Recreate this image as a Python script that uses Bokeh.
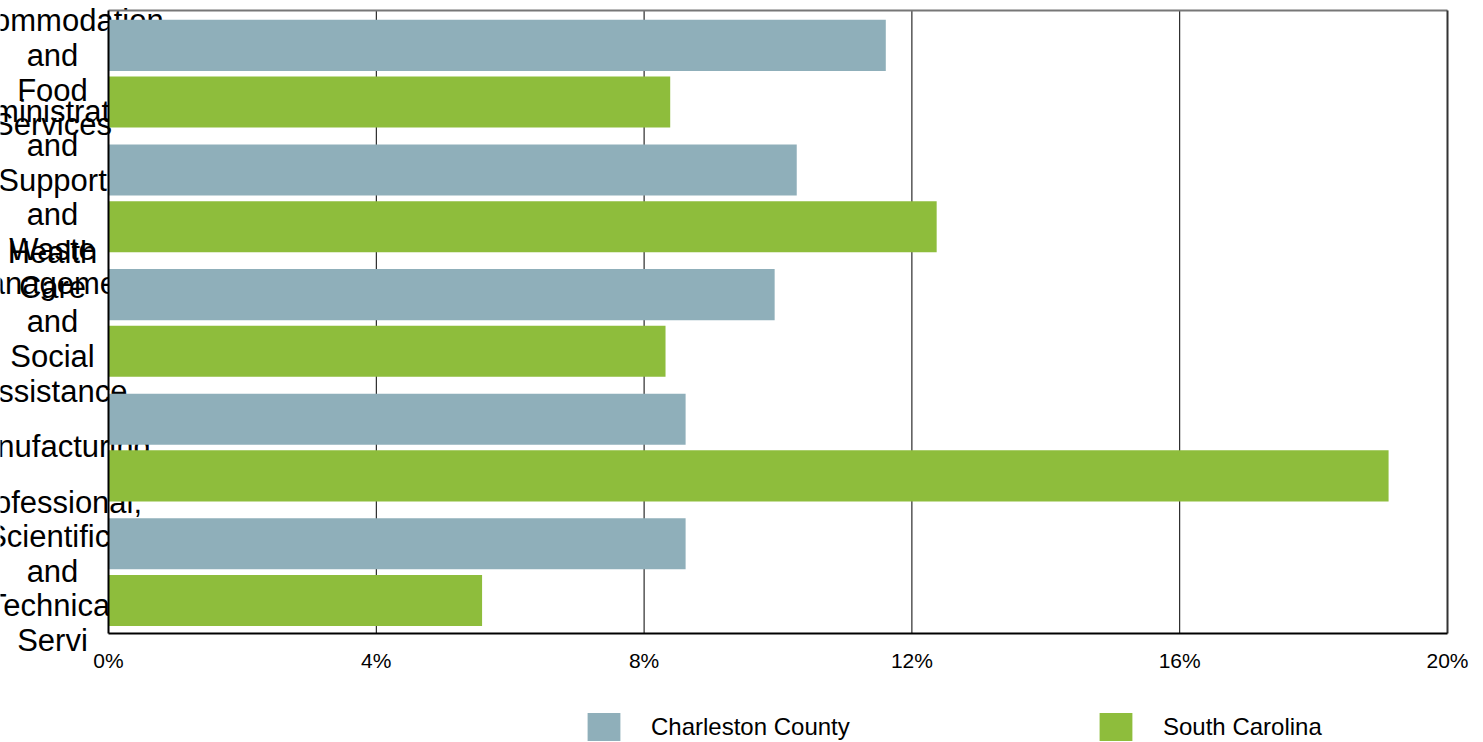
from bokeh.plotting import figure
from bokeh.models import ColumnDataSource, Range1d, Legend, LegendItem
from bokeh.core.properties import value
from bokeh.transform import dodge
from bokeh.embed import file_html
from bokeh.resources import INLINE

categories = [
    "Accommodation and Food Services",
    "Administrative and Support and Waste Management",
    "Health Care and Social Assistance",
    "Manufacturing",
    "Professional, Scientific, and Technical Servi",
]
charleston = [11.61, 10.28, 9.95, 8.62, 8.62]
south_carolina = [8.39, 12.37, 8.32, 19.12, 5.58]
x_ticks = [0, 4, 8, 12, 16, 20]
x_tick_labels = ["0%", "4%", "8%", "12%", "16%", "20%"]
series_names = ["Charleston County", "South Carolina"]
colors = ["#8FAFBA", "#8EBD3C"]

FONT = "Liberation Sans"

# ---- layout (pixels) ----
W, H = 1483, 742
PLOT_L, PLOT_R, PLOT_T, PLOT_B = 108, 1447, 10, 633
LABEL_CX = 52          # centre of the category labels
TICK_DY = 27           # tick labels below the plot bottom

n = len(categories)
x0, x1 = x_ticks[0], x_ticks[-1]
kx = (PLOT_R - PLOT_L) / (x1 - x0)
ky = (PLOT_B - PLOT_T) / n
x_range = Range1d(x0 - PLOT_L / kx, x1 + (W - PLOT_R) / kx)
y_range = Range1d(n + (H - PLOT_B) / ky, -PLOT_T / ky)

centers = [i + 0.5 for i in range(n)]
wrapped = ["\n".join(c.split(" ")) for c in categories]
source = ColumnDataSource(dict(cat=categories, label=wrapped, pos=centers,
                               ch=charleston, sc=south_carolina))
label_x = x0 + (LABEL_CX - PLOT_L) / kx

p = figure(width=W, height=H, output_backend="svg", toolbar_location=None,
           x_range=x_range, y_range=y_range, x_axis_location=None, y_axis_location=None,
           min_border=0)
p.outline_line_color = None
p.grid.visible = False
p.background_fill_color = "white"
p.border_fill_color = "white"

# vertical grid lines
grid_src = ColumnDataSource(dict(x=x_ticks[1:-1]))
p.segment(x0="x", y0=0, x1="x", y1=n, source=grid_src, line_color="black", line_width=1)

# category labels (drawn under the bars)
p.text(x=label_x, y="pos", text="label", source=source, text_align="center",
       text_baseline="middle", text_font=value(FONT), text_font_size="31px",
       text_color="black", text_line_height=0.987)

r1 = p.hbar(y=dodge("pos", -0.22), left=0, right="ch", height=0.41,
            source=source, fill_color=colors[0], line_color=None)
r2 = p.hbar(y=dodge("pos", 0.235), left=0, right="sc", height=0.41,
            source=source, fill_color=colors[1], line_color=None)

# plot border
p.segment(x0=x0, y0=0, x1=x1, y1=0, line_color="#777777", line_width=2)
p.segment(x0=x1, y0=0, x1=x1, y1=n, line_color="#333333", line_width=2)
p.segment(x0=x0, y0=0, x1=x0, y1=n, line_color="black", line_width=2)
p.segment(x0=x0, y0=n, x1=x1, y1=n, line_color="black", line_width=2)

# x tick labels
tick_src = ColumnDataSource(dict(x=x_ticks, t=x_tick_labels))
p.text(x="x", y=n + TICK_DY / ky, text="t", source=tick_src, text_align="center",
       text_baseline="middle", text_font=value(FONT), text_font_size="21px", text_color="black")

for r, name, lx in [(r1, series_names[0], 583), (r2, series_names[1], 1095)]:
    leg = Legend(items=[LegendItem(label=name, renderers=[r])], location=(lx, -2),
                 orientation="horizontal", padding=0, margin=0, border_line_color=None,
                 background_fill_alpha=0, glyph_width=41, glyph_height=35, label_standoff=27,
                 label_text_font=FONT, label_text_font_size="24px", label_text_color="black")
    p.add_layout(leg)

open("out.html", "w").write(file_html(p, INLINE))
